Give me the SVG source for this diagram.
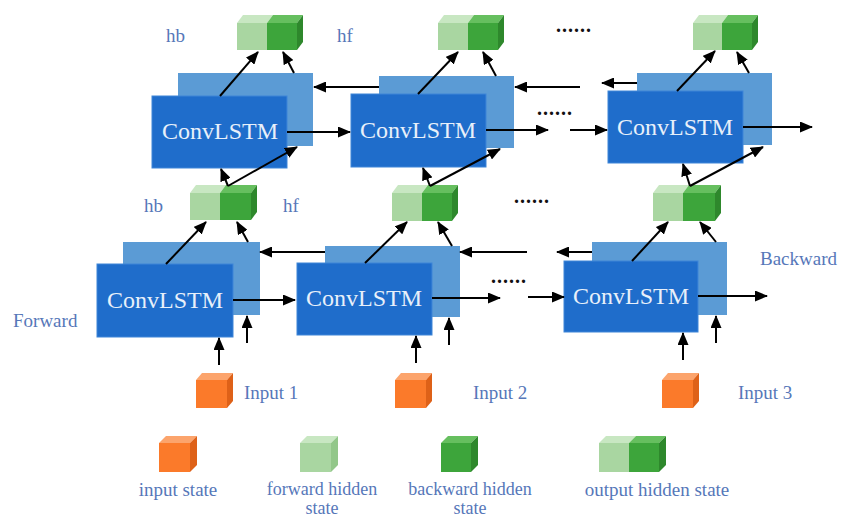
<svg xmlns="http://www.w3.org/2000/svg" width="842" height="518" viewBox="0 0 842 518">
<style>
.bk{fill:#5b9bd5}
.fr{fill:#1f6dcb;stroke:#3f86d8;stroke-width:1}
.ct{font-family:"Liberation Serif",serif;font-size:24px;fill:#e8f0fa;text-anchor:middle}
.lb{font-family:"Liberation Serif",serif;font-size:19px;fill:#5677b9}
.lc{font-family:"Liberation Serif",serif;font-size:19px;fill:#5677b9;text-anchor:middle}
.l2{font-family:"Liberation Serif",serif;font-size:18px;fill:#5677b9;text-anchor:middle}
.dt{font-family:"Liberation Serif",serif;font-size:20px;font-weight:bold;fill:#111;letter-spacing:1px}
.lf{fill:#a9d6a1}.lt{fill:#c8e7c2}.ls{fill:#92c789}
.df{fill:#3da53b}.dtp{fill:#66bf5f}.ds{fill:#2e882c}
.of{fill:#fb7a2a}.ot{fill:#fca46c}.os{fill:#de6118}
.ar{stroke:#000;stroke-width:2;fill:none;marker-end:url(#ah)}
</style>
<defs>
<marker id="ah" markerUnits="userSpaceOnUse" markerWidth="13" markerHeight="11" refX="12" refY="5.5" orient="auto">
<path d="M0,0 L13,5.5 L0,11 z" fill="#000"/>
</marker>
</defs>
<rect width="842" height="518" fill="#fff"/>

<!-- Top layer nodes -->
<g id="T1"><rect class="bk" x="178" y="73" width="135" height="73"/><rect class="fr" x="152" y="96" width="135" height="72"/><text class="ct" x="220" y="139">ConvLSTM</text></g>
<g id="T2"><rect class="bk" x="379" y="76" width="135" height="72"/><rect class="fr" x="351" y="94" width="135" height="73"/><text class="ct" x="418" y="138">ConvLSTM</text></g>
<g id="T3"><rect class="bk" x="637" y="73" width="135" height="72"/><rect class="fr" x="608" y="91" width="135" height="72"/><text class="ct" x="675" y="135">ConvLSTM</text></g>

<!-- Bottom layer nodes -->
<g id="B1"><rect class="bk" x="123" y="242" width="137" height="73"/><rect class="fr" x="97" y="264" width="136" height="73"/><text class="ct" x="165" y="308">ConvLSTM</text></g>
<g id="B2"><rect class="bk" x="325" y="246" width="135" height="71"/><rect class="fr" x="297" y="263" width="135" height="72"/><text class="ct" x="364" y="306">ConvLSTM</text></g>
<g id="B3"><rect class="bk" x="592" y="242" width="135" height="73"/><rect class="fr" x="564" y="261" width="134" height="71"/><text class="ct" x="631" y="304">ConvLSTM</text></g>

<!-- Top output cubes -->
<g id="OT1">
<polygon class="lt" points="237,23 243,15 273,15 267,23"/><polygon class="dtp" points="267,23 273,15 303,15 297,23"/>
<rect class="lf" x="237" y="23" width="30" height="27"/><rect class="df" x="267" y="23" width="30" height="27"/>
<polygon class="ds" points="297,23 303,15 303,42 297,50"/></g>
<g id="OT2">
<polygon class="lt" points="438,23 444,15 474,15 468,23"/><polygon class="dtp" points="468,23 474,15 504,15 498,23"/>
<rect class="lf" x="438" y="23" width="30" height="27"/><rect class="df" x="468" y="23" width="30" height="27"/>
<polygon class="ds" points="498,23 504,15 504,42 498,50"/></g>
<g id="OT3">
<polygon class="lt" points="693,23 699,15 728,15 722,23"/><polygon class="dtp" points="722,23 728,15 758,15 752,23"/>
<rect class="lf" x="693" y="23" width="29" height="27"/><rect class="df" x="722" y="23" width="30" height="27"/>
<polygon class="ds" points="752,23 758,15 758,42 752,50"/></g>

<!-- Middle cubes -->
<g id="M1">
<polygon class="lt" points="190,193 196,185 226,185 220,193"/><polygon class="dtp" points="220,193 226,185 257,185 251,193"/>
<rect class="lf" x="190" y="193" width="30" height="27"/><rect class="df" x="220" y="193" width="31" height="27"/>
<polygon class="ds" points="251,193 257,185 257,212 251,220"/></g>
<g id="M2">
<polygon class="lt" points="392,193 398,185 428,185 422,193"/><polygon class="dtp" points="422,193 428,185 458,185 452,193"/>
<rect class="lf" x="392" y="193" width="30" height="28"/><rect class="df" x="422" y="193" width="30" height="28"/>
<polygon class="ds" points="452,193 458,185 458,213 452,221"/></g>
<g id="M3">
<polygon class="lt" points="653,193 659,185 689,185 683,193"/><polygon class="dtp" points="683,193 689,185 721,185 715,193"/>
<rect class="lf" x="653" y="193" width="30" height="28"/><rect class="df" x="683" y="193" width="32" height="28"/>
<polygon class="ds" points="715,193 721,185 721,213 715,221"/></g>

<!-- Input cubes -->
<g id="I1"><polygon class="ot" points="196,380 202,373 233,373 227,380"/><rect class="of" x="196" y="380" width="31" height="28"/><polygon class="os" points="227,380 233,373 233,401 227,408"/><text class="lb" x="244" y="399">Input 1</text></g>
<g id="I2"><polygon class="ot" points="395,380 401,373 432,373 426,380"/><rect class="of" x="395" y="380" width="31" height="28"/><polygon class="os" points="426,380 432,373 432,401 426,408"/><text class="lb" x="473" y="399">Input 2</text></g>
<g id="I3"><polygon class="ot" points="662,380 668,373 699,373 693,380"/><rect class="of" x="662" y="380" width="31" height="28"/><polygon class="os" points="693,380 699,373 699,401 693,408"/><text class="lb" x="738" y="399">Input 3</text></g>

<!-- Labels -->
<g id="labels">
<text class="lb" x="166" y="42">hb</text>
<text class="lb" x="337" y="42">hf</text>
<text class="lb" x="144" y="212">hb</text>
<text class="lb" x="283" y="212">hf</text>
<text class="lb" x="13" y="327">Forward</text>
<text class="lb" x="760" y="265">Backward</text>
<text class="dt" x="556" y="32">......</text>
<text class="dt" x="537" y="115">......</text>
<text class="dt" x="514" y="203">......</text>
<text class="dt" x="491" y="283">......</text>
</g>

<!-- Legend -->
<g id="legend-input"><polygon class="ot" points="159,443 166,436 197,436 190,443"/><rect class="of" x="159" y="443" width="31" height="29"/><polygon class="os" points="190,443 197,436 197,465 190,472"/><text class="lc" x="178" y="496">input state</text></g>
<g id="legend-forward"><polygon class="lt" points="300,443 307,436 338,436 331,443"/><rect class="lf" x="300" y="443" width="31" height="29"/><polygon class="ls" points="331,443 338,436 338,465 331,472"/><text class="l2" x="322" y="495">forward hidden<tspan x="322" dy="19">state</tspan></text></g>
<g id="legend-backward"><polygon class="dtp" points="441,443 448,436 478,436 471,443"/><rect class="df" x="441" y="443" width="30" height="29"/><polygon class="ds" points="471,443 478,436 478,465 471,472"/><text class="l2" x="470" y="495">backward hidden<tspan x="470" dy="19">state</tspan></text></g>
<g id="legend-output"><polygon class="lt" points="599,443 606,436 636,436 629,443"/><polygon class="dtp" points="629,443 636,436 666,436 659,443"/><rect class="lf" x="599" y="443" width="30" height="29"/><rect class="df" x="629" y="443" width="30" height="29"/><polygon class="ds" points="659,443 666,436 666,465 659,472"/><text class="lc" x="657" y="496">output hidden state</text></g>

<!-- Connectors -->
<g id="connectors">
<line class="ar" x1="220" y1="96" x2="258" y2="52"/>
<line class="ar" x1="294" y1="73" x2="283" y2="52"/>
<line class="ar" x1="418" y1="94" x2="458" y2="52"/>
<line class="ar" x1="496" y1="76" x2="483" y2="52"/>
<line class="ar" x1="677" y1="91" x2="715" y2="51"/>
<line class="ar" x1="749" y1="73" x2="737" y2="52"/>
<line class="ar" x1="379" y1="87" x2="314" y2="87"/>
<line class="ar" x1="580" y1="87" x2="515" y2="87"/>
<line class="ar" x1="637" y1="83" x2="602" y2="83"/>
<line class="ar" x1="287" y1="132" x2="350" y2="132"/>
<line class="ar" x1="486" y1="130" x2="548" y2="130"/>
<line class="ar" x1="570" y1="130" x2="607" y2="130"/>
<line class="ar" x1="743" y1="127" x2="812" y2="127"/>
<line class="ar" x1="228" y1="186" x2="221" y2="169"/>
<line class="ar" x1="228" y1="186" x2="297" y2="147"/>
<line class="ar" x1="430" y1="186" x2="423" y2="168"/>
<line class="ar" x1="430" y1="186" x2="500" y2="149"/>
<line class="ar" x1="690" y1="186" x2="683" y2="164"/>
<line class="ar" x1="690" y1="186" x2="763" y2="147"/>
<line class="ar" x1="166" y1="264" x2="206" y2="222"/>
<line class="ar" x1="248" y1="242" x2="237" y2="222"/>
<line class="ar" x1="365" y1="263" x2="407" y2="222"/>
<line class="ar" x1="452" y1="246" x2="438" y2="222"/>
<line class="ar" x1="632" y1="261" x2="668" y2="222"/>
<line class="ar" x1="716" y1="242" x2="700" y2="222"/>
<line class="ar" x1="325" y1="252" x2="260" y2="252"/>
<line class="ar" x1="527" y1="252" x2="460" y2="252"/>
<line class="ar" x1="592" y1="252" x2="557" y2="252"/>
<line class="ar" x1="233" y1="300" x2="295" y2="300"/>
<line class="ar" x1="432" y1="298" x2="500" y2="298"/>
<line class="ar" x1="528" y1="297" x2="564" y2="297"/>
<line class="ar" x1="698" y1="296" x2="767" y2="296"/>
<line class="ar" x1="219" y1="365" x2="219" y2="338"/>
<line class="ar" x1="247" y1="343" x2="247" y2="316"/>
<line class="ar" x1="416" y1="363" x2="416" y2="336"/>
<line class="ar" x1="449" y1="345" x2="449" y2="318"/>
<line class="ar" x1="683" y1="360" x2="683" y2="333"/>
<line class="ar" x1="716" y1="343" x2="716" y2="316"/>
</g>
</svg>
